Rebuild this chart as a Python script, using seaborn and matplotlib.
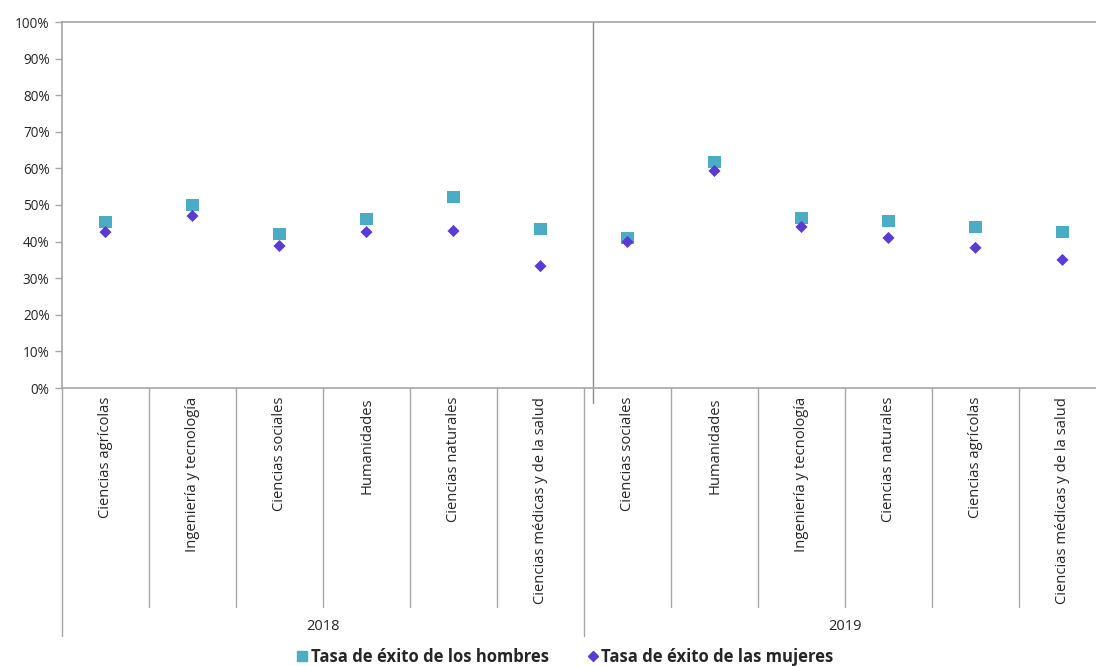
import matplotlib
matplotlib.use("Agg")
import matplotlib.pyplot as plt
from matplotlib.lines import Line2D
import seaborn as sns
import pandas as pd
import numpy as np

categories = ["Ciencias agrícolas", "Ingeniería y tecnología", "Ciencias sociales",
              "Humanidades", "Ciencias naturales", "Ciencias médicas y de la salud",
              "Ciencias sociales", "Humanidades", "Ingeniería y tecnología",
              "Ciencias naturales", "Ciencias agrícolas", "Ciencias médicas y de la salud"]
years = ["2018", "2019"]
hombres = [45.4, 50.0, 42.1, 46.2, 52.2, 43.4, 41.0, 61.7, 46.4, 45.6, 44.0, 42.6]
mujeres = [42.6, 47.0, 38.8, 42.6, 42.9, 33.3, 39.9, 59.3, 44.0, 41.0, 38.3, 35.0]
yticks = [0, 10, 20, 30, 40, 50, 60, 70, 80, 90, 100]
serie_h = "Tasa de éxito de los hombres"
serie_m = "Tasa de éxito de las mujeres"

sns.set_theme(style="white")
plt.rcParams["font.family"] = ["Open Sans", "DejaVu Sans"]

W, H = 1096, 666
fig = plt.figure(figsize=(W / 100, H / 100), dpi=100)
ax = fig.add_axes([62 / W, (H - 388) / H, (1106 - 62) / W, (388 - 22) / H])

pos = np.arange(len(categories))
df_h = pd.DataFrame({"pos": pos, "valor": hombres})
df_m = pd.DataFrame({"pos": pos, "valor": mujeres})

c_h = "#4BACC6"
c_m = "#5A3BD6"
sns.scatterplot(data=df_h, x="pos", y="valor", marker="s", s=75, color=c_h,
                edgecolor="none", ax=ax, zorder=3)
sns.scatterplot(data=df_m, x="pos", y="valor", marker="D", s=38, color=c_m,
                edgecolor="none", ax=ax, zorder=4)

ax.set_xlim(-0.5, len(categories) - 0.5)
ax.set_ylim(0, 100)
ax.set_yticks(yticks)
ax.set_yticklabels([f"{v}%" for v in yticks], fontsize=9.8, color="#262626")
ax.set_xticks([])
ax.set_xlabel("")
ax.set_ylabel("")
gray = "#A6A6A6"
for sp in ax.spines.values():
    sp.set_color(gray)
    sp.set_linewidth(1.2)
ax.tick_params(axis="y", left=True, length=5, width=1, color=gray, pad=4)

trans = ax.get_xaxis_transform()
ph = 366.0
def fy(py):
    return (388 - py) / ph

# separator between years inside plot
ax.add_line(Line2D([5.603, 5.603], [1.0, fy(403)], transform=trans, color="#8C8C8C",
                   lw=1.0, clip_on=False))

# category labels
for i, c in enumerate(categories):
    ax.text(i, fy(397), c, transform=trans, rotation=90, ha="center", va="top",
            fontsize=10.6, color="#262626")

# category separators
for i in range(len(categories) + 1):
    b = i - 0.5
    low = fy(636) if i % 6 == 0 else fy(607)
    ax.add_line(Line2D([b, b], [0, low], transform=trans, color=gray, lw=1.0,
                       clip_on=False))

# year labels
for g, y in enumerate(years):
    ax.text(g * 6 + 2.5, fy(626), y, transform=trans, ha="center", va="center",
            fontsize=10.5, color="#262626")

handles = [
    Line2D([], [], marker="s", linestyle="none", color=c_h, markersize=7.5, label=serie_h),
    Line2D([], [], marker="D", linestyle="none", color=c_m, markersize=5, label=serie_m),
]
leg = fig.legend(handles=handles, loc="center", bbox_to_anchor=(565 / W, (H - 657) / H),
                 ncol=2, frameon=False, handlelength=0.7, handletextpad=0.15,
                 columnspacing=2.3, prop={"weight": "bold", "size": 12})

fig.savefig("out.png", dpi=100)
